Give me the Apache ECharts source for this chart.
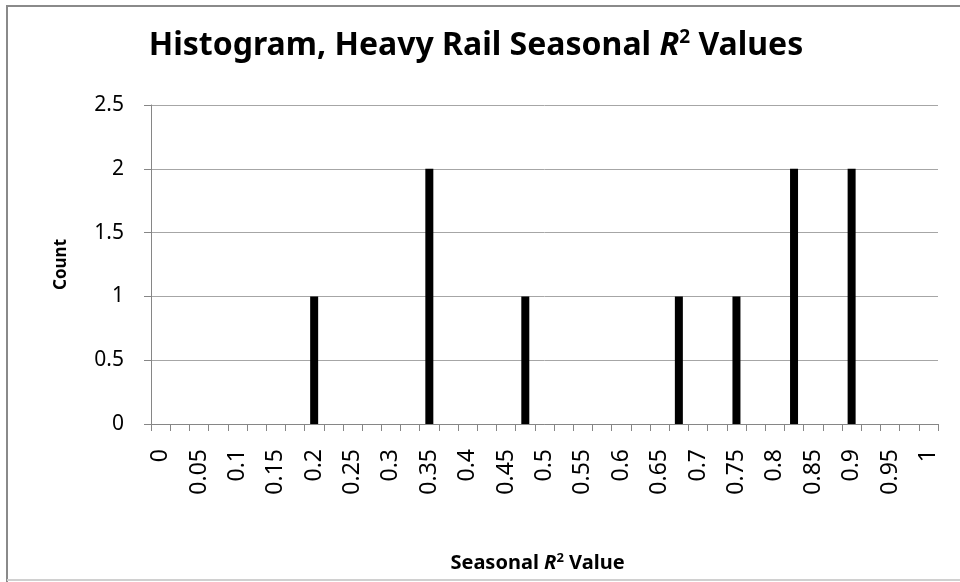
<!DOCTYPE html>
<html>
<head>
<meta charset="utf-8">
<script src="https://cdn.jsdelivr.net/npm/echarts@6/dist/echarts.min.js"></script>
<style>html,body{margin:0;padding:0;background:#fff}#c{width:960px;height:582px}</style>
</head>
<body>
<div id="c"></div>
<script>
// Bin categories (R² value bins, step 0.025)
var categories = ['0','0.025','0.05','0.075','0.1','0.125','0.15','0.175','0.2','0.225','0.25','0.275','0.3','0.325','0.35','0.375','0.4','0.425','0.45','0.475','0.5','0.525','0.55','0.575','0.6','0.625','0.65','0.675','0.7','0.725','0.75','0.775','0.8','0.825','0.85','0.875','0.9','0.925','0.95','0.975','1'];
// Counts per bin
var counts = [0,0,0,0,0,0,0,0,1,0,0,0,0,0,2,0,0,0,0,1,0,0,0,0,0,0,0,1,0,0,1,0,0,2,0,0,2,0,0,0,0];
var yTicks = [0, 0.5, 1, 1.5, 2, 2.5];

var FONT = 'Noto Sans';
var chart = echarts.init(document.getElementById('c'), null, {renderer: 'canvas'});
chart.setOption({
  animation: false,
  backgroundColor: '#fff',
  textStyle: {fontFamily: FONT},
  title: {
    text: 'Histogram, Heavy Rail Seasonal {i|R}{s|2} Values',
    left: 471,
    textAlign: 'center',
    top: 23,
    textStyle: {
      fontFamily: FONT, fontSize: 32, fontWeight: 'bold', color: '#000',
      rich: {
        i: {fontFamily: FONT, fontSize: 32, fontWeight: 'bold', fontStyle: 'italic', color: '#000'},
        s: {fontFamily: FONT, fontSize: 19, fontWeight: 'bold', color: '#000', verticalAlign: 'top', padding: [0, 0, 17, 0]}
      }
    }
  },
  grid: {left: 151, right: 22, top: 105, bottom: 158, containLabel: false},
  xAxis: {
    type: 'category',
    data: categories,
    boundaryGap: true,
    name: 'Seasonal {i|R}{s|2} Value',
    nameLocation: 'middle',
    nameGap: 128,
    nameTextStyle: {
      fontFamily: FONT, fontSize: 20, fontWeight: 'bold', color: '#000',
      padding: [0, 14, 0, 0],
      rich: {
        i: {fontFamily: FONT, fontSize: 20, fontWeight: 'bold', fontStyle: 'italic', color: '#000'},
        s: {fontFamily: FONT, fontSize: 13, fontWeight: 'bold', color: '#000', verticalAlign: 'top', padding: [0, 0, 10, 0]}
      }
    },
    axisLine: {show: true, lineStyle: {color: '#868686', width: 1}},
    axisTick: {show: true, interval: 0, length: 7, alignWithLabel: false, lineStyle: {color: '#868686'}},
    axisLabel: {interval: 1, rotate: 90, margin: 25, fontFamily: FONT, fontSize: 23, color: '#000'},
    splitLine: {show: false}
  },
  yAxis: {
    type: 'value',
    min: 0, max: 2.5, interval: 0.5,
    name: 'Count',
    nameLocation: 'middle',
    nameGap: 81,
    nameRotate: 90,
    nameTextStyle: {fontFamily: FONT, fontSize: 17, fontWeight: 'bold', color: '#000'},
    axisLine: {show: true, lineStyle: {color: '#868686', width: 1}},
    axisTick: {show: true, length: 7, lineStyle: {color: '#868686'}},
    axisLabel: {margin: 27, fontFamily: FONT, fontSize: 21, color: '#000',
      formatter: function (v) { return yTicks.indexOf(v) >= 0 ? String(v) : ''; }},
    splitLine: {show: true, lineStyle: {color: '#a6a6a6', width: 1}}
  },
  series: [{
    type: 'bar',
    data: counts,
    barWidth: 8,
    itemStyle: {color: '#000'}
  }],
  graphic: [
    {type: 'polyline', shape: {points: [[7, 582], [7, 6], [960, 6]]}, style: {stroke: '#8a8a8a', lineWidth: 2, fill: null}, silent: true},
    {type: 'polyline', shape: {points: [[7, 580], [960, 580]]}, style: {stroke: '#d0d0d0', lineWidth: 2, fill: null}, silent: true}
  ]
});
</script>
</body>
</html>
